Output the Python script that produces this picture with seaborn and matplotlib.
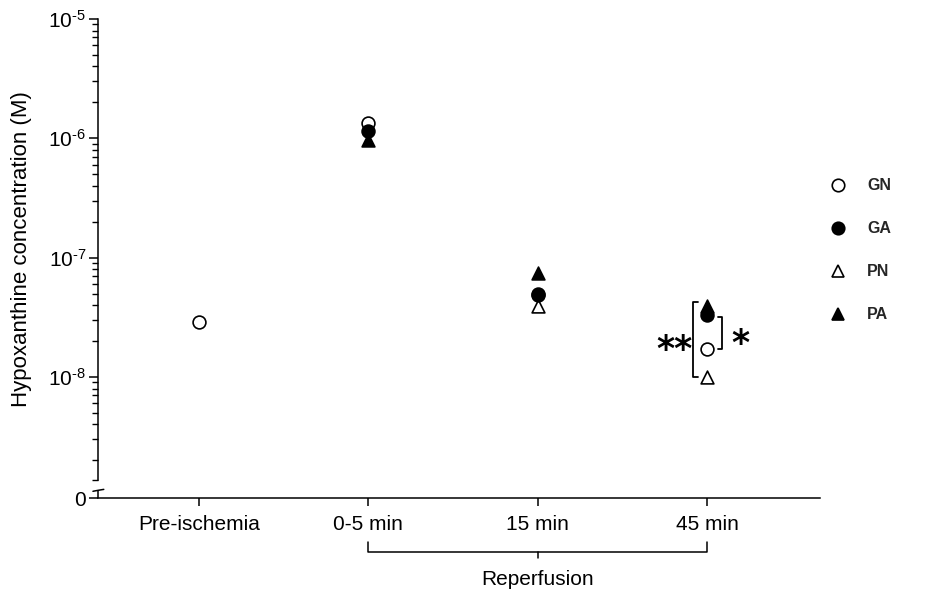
import numpy as np
import pandas as pd
import matplotlib
matplotlib.use("Agg")
import matplotlib.pyplot as plt
import matplotlib.transforms as mtransforms
from matplotlib.lines import Line2D
from matplotlib.ticker import FixedLocator, FixedFormatter, NullFormatter
import seaborn as sns

# Hypoxanthine concentration (M) per sampling time and group
categories = ["Pre-ischemia", "0-5 min", "15 min", "45 min"]
GN = [2.9e-8, 1.35e-6, 5.0e-8, 1.7e-8]
GA = [np.nan, 1.15e-6, 4.9e-8, 3.3e-8]
PN = [np.nan, np.nan, 3.9e-8, 1.0e-8]
PA = [np.nan, 9.7e-7, 7.5e-8, 3.9e-8]
groups = ["GN", "GA", "PN", "PA"]
series = {"GN": GN, "GA": GA, "PN": PN, "PA": PA}

# log axis range: bottom of the axis stands for zero, break just above it
y_zero = 10 ** -9.014
y_break = 10 ** -8.863
y_top = 1e-5
major_ticks = [1e-8, 1e-7, 1e-6, 1e-5]
major_labels = ["$10^{\u2010" + str(e) + "}$" for e in (8, 7, 6, 5)]

sns.set_theme(style="white")
plt.rcParams["font.family"] = ["Liberation Sans", "DejaVu Sans"]
plt.rcParams["mathtext.fontset"] = "custom"
plt.rcParams["mathtext.rm"] = "Liberation Sans"
plt.rcParams["mathtext.it"] = "Liberation Sans:italic"
plt.rcParams["mathtext.bf"] = "Liberation Sans:bold"

rows = []
for g in groups:
    for i, v in enumerate(series[g]):
        rows.append({"group": g, "pos": i, "value": v})
df = pd.DataFrame(rows).dropna()

style = {
    "GN": dict(marker="o", facecolor="white"),
    "PN": dict(marker="^", facecolor="white"),
    "GA": dict(marker="o", facecolor="black"),
    "PA": dict(marker="^", facecolor="black"),
}

fig = plt.figure(figsize=(9.25, 5.91), dpi=100)
ax = fig.add_axes([98 / 925, 93 / 591, 722 / 925, 479 / 591])
ax.set_yscale("log")

for g in ["GN", "PN", "GA", "PA"]:
    sub = df[df["group"] == g]
    sns.scatterplot(data=sub, x="pos", y="value", ax=ax, s=85,
                    marker=style[g]["marker"], facecolor=style[g]["facecolor"],
                    edgecolor="black", linewidth=1.2, zorder=3, legend=False)

ax.set_ylim(y_zero, y_top)
ax.set_xlim(-0.597, 3.667)

# spines
for side in ["top", "right"]:
    ax.spines[side].set_visible(False)
for side in ["left", "bottom"]:
    ax.spines[side].set_color("black")
    ax.spines[side].set_linewidth(1.1)
ax.spines["left"].set_bounds(y_break, y_top)

# y ticks
minor = []
for e in range(-10, -5):
    for m in range(2, 10):
        v = m * 10.0 ** e
        if y_break < v < y_top:
            minor.append(v)
minor.append(y_break)
ax.yaxis.set_major_locator(FixedLocator([y_zero] + major_ticks))
ax.yaxis.set_major_formatter(FixedFormatter(["0"] + major_labels))
ax.yaxis.set_minor_locator(FixedLocator(minor))
ax.yaxis.set_minor_formatter(NullFormatter())
ax.tick_params(axis="y", which="major", left=True, direction="out", length=6.5,
               width=1.1, color="black", labelsize=15, labelcolor="black", pad=2)
ax.tick_params(axis="y", which="minor", left=True, direction="out", length=4,
               width=1.0, color="black")

# x ticks
ax.set_xticks(range(len(categories)))
ax.set_xticklabels(categories)
ax.tick_params(axis="x", which="major", bottom=True, direction="out", length=6,
               width=1.1, color="black", labelsize=15, labelcolor="black", pad=6)
ax.set_xlabel("")
ax.set_ylabel("Hypoxanthine concentration (M)", fontsize=16, color="black")
ax.yaxis.set_label_coords(-0.092, 0.52)

# axis break stub near zero
trans_ax = ax.transAxes
ax.plot([0.0, 0.0], [0.0, 0.015], color="black", lw=1.1, transform=trans_ax, clip_on=False)
ax.plot([-0.007, 0.0, 0.008], [0.014, 0.016, 0.018], color="black", lw=1.1,
        transform=trans_ax, clip_on=False)

# reperfusion bracket under the x axis
tr = mtransforms.blended_transform_factory(ax.transData, ax.transAxes)
yb = -0.1127
ax.plot([1, 1, 3, 3], [yb + 0.02, yb, yb, yb + 0.02], color="black", lw=1.1,
        transform=tr, clip_on=False)
ax.plot([2, 2], [yb, yb - 0.013], color="black", lw=1.1, transform=tr, clip_on=False)
ax.text(2, -0.17, "Reperfusion", transform=tr, ha="center", va="center",
        fontsize=15, color="black")

# significance brackets at 45 min
i45 = 3
top_l = max(PA[i45], GA[i45]) * 1.08
bot_l = PN[i45]
xl = i45 - 0.083
ax.plot([xl + 0.03, xl, xl, xl + 0.03], [top_l, top_l, bot_l, bot_l], color="black",
        lw=1.3, clip_on=False)
top_r = GA[i45] * 0.97
bot_r = GN[i45]
xr = i45 + 0.089
ax.plot([xr - 0.025, xr, xr, xr - 0.025], [top_r, top_r, bot_r, bot_r], color="black",
        lw=1.3, clip_on=False)
ax.text(xl - 0.11, 10 ** -7.77, "**", ha="center", va="center", fontsize=25,
        family="DejaVu Sans", fontweight="bold", color="black")
ax.text(xr + 0.105, 10 ** -7.72, "*", ha="center", va="center", fontsize=25,
        family="DejaVu Sans", fontweight="bold", color="black")

# legend
handles = [
    Line2D([], [], marker="o", ls="", mfc="white", mec="black", ms=9, mew=1.2),
    Line2D([], [], marker="o", ls="", mfc="black", mec="black", ms=9, mew=1.2),
    Line2D([], [], marker="^", ls="", mfc="white", mec="black", ms=9, mew=1.2),
    Line2D([], [], marker="^", ls="", mfc="black", mec="black", ms=9, mew=1.2),
]
leg = ax.legend(handles, groups, loc="upper left", bbox_to_anchor=(816 / 925, 1 - 164 / 591),
                bbox_transform=fig.transFigure, frameon=False, labelspacing=1.75,
                handletextpad=1.3, handlelength=1.0,
                prop={"size": 11.5, "weight": "bold", "family": "Liberation Sans"})

fig.savefig("out.png", dpi=100, facecolor="white")
